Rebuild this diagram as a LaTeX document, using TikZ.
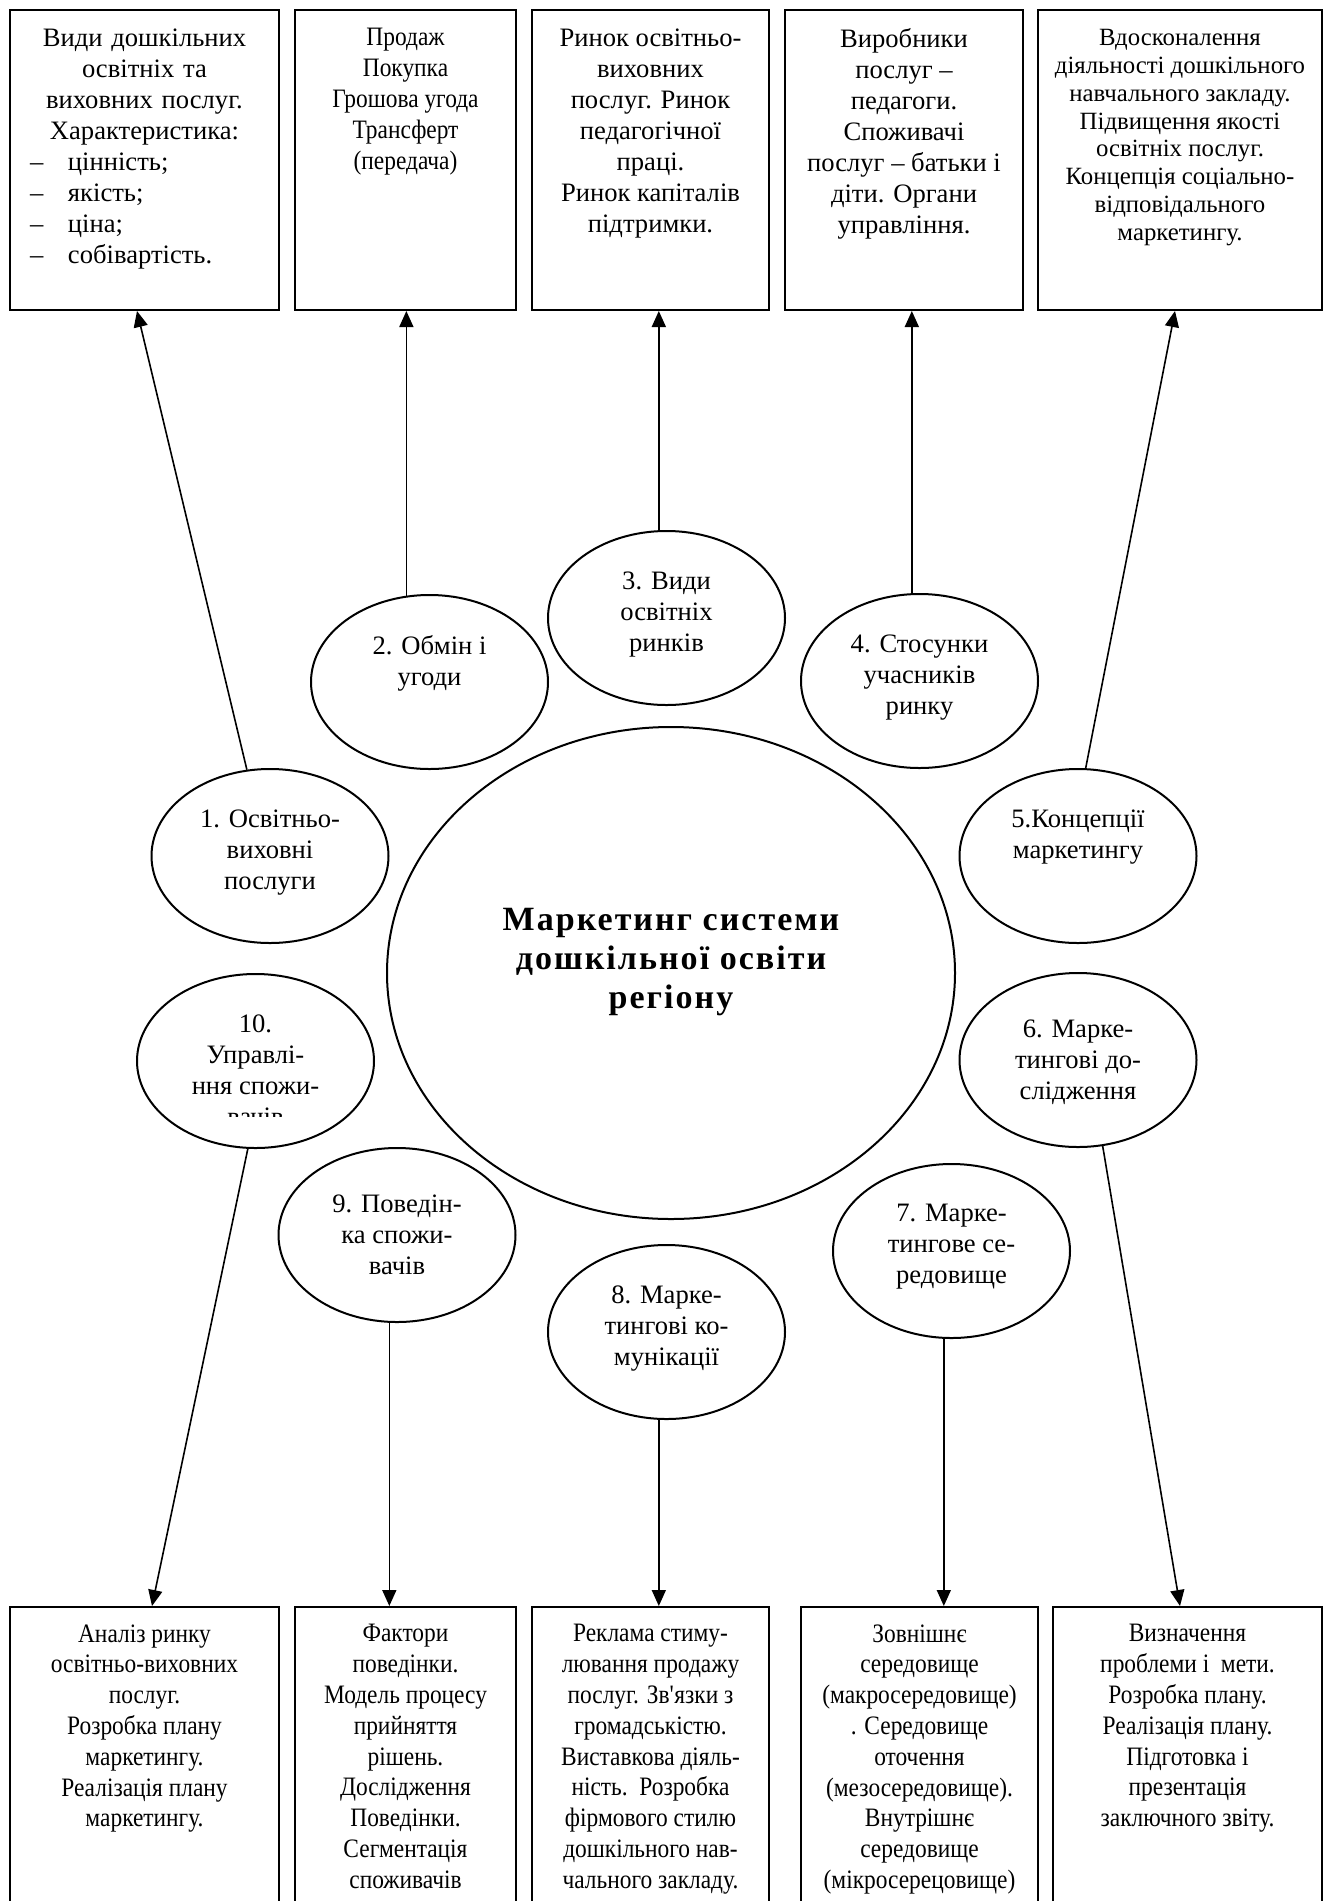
\documentclass[tikz,border=0pt]{standalone}
\usepackage{fontspec}
\setmainfont{Liberation Serif}
\newfontfamily\narrowserif[FakeStretch=0.88]{Liberation Serif}
\newfontfamily\widebold[LetterSpace=6]{Liberation Serif}
\usetikzlibrary{shapes.geometric,arrows.meta,calc}

\begin{document}
\begin{tikzpicture}[x=0.5pt, y=-0.5pt,
  infobox/.style={draw, line width=1pt, rectangle, inner sep=0pt},
  topic/.style={draw, line width=1pt, ellipse, inner sep=0pt, minimum width=118.5pt, minimum height=87pt},
  topictext/.style={anchor=north, inner sep=0pt, align=center, font=\fontsize{13.3}{15.5}\selectfont},
  boxtext/.style={anchor=north, inner sep=0pt, align=center, font=\fontsize{13.3}{15.5}\selectfont},
  narrowtext/.style={boxtext, font=\narrowserif\fontsize{13.3}{15.4}\selectfont},
  link/.style={line width=0.8pt, -{Triangle[length=8pt,width=7pt]}}]
\useasboundingbox (0,0) rectangle (1329,1901);
\clip (0,0) rectangle (1329,1901);

% Upper boxes
\foreach \n/\x/\w in {1/144.5/134.5, 2/405.5/110.5, 3/650.5/118.5, 4/904/119, 5/1180/142}
  \node[infobox, minimum width=\w pt, minimum height=150pt] (b\n) at (\x,160) {};

% Lower boxes (run off the page)
\foreach \n/\x/\w in {1/144.5/134.5, 2/405.5/110.5, 3/650.5/118.5, 4/919.5/118.5, 5/1187.5/134.5}
  \node[infobox, minimum width=\w pt, minimum height=152pt] (c\n) at (\x,1759) {};

% Central ellipse
\node[draw, ellipse, line width=1pt, inner sep=0pt, minimum width=284pt, minimum height=246pt] (hub) at (671,973) {};
\node[inner sep=0pt, align=center, font=\widebold\bfseries\fontsize{17}{19.5}\selectfont] (hubtext) at ($(hub.center)+(0,-11)$)
  {Маркетинг системи\\дошкільної освіти\\регіону};

% Topic ellipses
\foreach \n/\x/\y in {1/270/856, 2/429.5/682, 3/666.5/618, 4/919.5/681, 5/1078/856,
                      6/1078/1060, 7/951.5/1251, 8/666.5/1332, 9/397/1235, 10/255.5/1061}
  \node[topic] (e\n) at (\x,\y) {};

\node[topictext] (e1text) at ($(e1.north)+(0,41)$) {1. Освітньо-\\виховні\\послуги};
\node[topictext] (e2text) at ($(e2.north)+(0,41)$) {2. Обмін і\\угоди};
\node[topictext] (e3text) at ($(e3.north)+(0,41)$) {3. Види\\освітніх\\ринків};
\node[topictext] (e4text) at ($(e4.north)+(0,41)$) {4. Стосунки\\учасників\\ринку};
\node[topictext] (e5text) at ($(e5.north)+(0,41)$) {5.Концепції\\маркетингу};
\node[topictext] (e6text) at ($(e6.north)+(0,47)$) {6. Марке-\\тингові до-\\слідження};
\node[topictext] (e7text) at ($(e7.north)+(0,41)$) {7. Марке-\\тингове се-\\редовище};
\node[topictext] (e8text) at ($(e8.north)+(0,41)$) {8. Марке-\\тингові ко-\\мунікації};
\node[topictext] (e9text) at ($(e9.north)+(0,47)$) {9. Поведін-\\ка спожи-\\вачів};
\begin{scope}
  \clip (e10.north west) rectangle ($(e10.east)+(0,55)$);
  \node[topictext] (e10text) at ($(e10.north)+(0,41)$) {10.\\Управлі-\\ння спожи-\\вачів};
\end{scope}

% Upper box texts
\node[boxtext, text width=120pt, align=left] (b1text) at ($(b1.north)+(0,19)$)
  {{\centering Види дошкільних\\освітніх та\\виховних послуг.\\Характеристика:\par}
   \hspace*{2.75pt}\makebox[19pt][l]{–}цінність;\\
   \hspace*{2.75pt}\makebox[19pt][l]{–}якість;\\
   \hspace*{2.75pt}\makebox[19pt][l]{–}ціна;\\
   \hspace*{2.75pt}\makebox[19pt][l]{–}собівартість.};
\node[narrowtext] (b2text) at ($(b2.north)+(0,19)$) {Продаж\\Покупка\\Грошова угода\\Трансферт\\(передача)};
\node[boxtext] (b3text) at ($(b3.north)+(0,19)$)
  {Ринок освітньо-\\виховних\\послуг. Ринок\\педагогічної\\праці.\\Ринок капіталів\\підтримки.};
\node[boxtext] (b4text) at ($(b4.north)+(0,19)$)
  {Виробники\\послуг –\\педагоги.\\Споживачі\\послуг – батьки і\\діти. Органи\\управління.};
\node[boxtext, font=\fontsize{12.4}{13.9}\selectfont] (b5text) at ($(b5.north)+(0,20)$)
  {Вдосконалення\\діяльності дошкільного\\навчального закладу.\\Підвищення якості\\освітніх послуг.\\Концепція соціально-\\відповідального\\маркетингу.};

% Lower box texts
\node[narrowtext] (c1text) at ($(c1.north)+(0,18)$)
  {Аналіз ринку\\освітньо-виховних\\послуг.\\Розробка плану\\маркетингу.\\Реалізація плану\\маркетингу.};
\node[narrowtext] (c2text) at ($(c2.north)+(0,18)$)
  {Фактори\\поведінки.\\Модель процесу\\прийняття\\рішень.\\Дослідження\\Поведінки.\\Сегментація\\споживачів};
\node[narrowtext] (c3text) at ($(c3.north)+(0,18)$)
  {Реклама стиму-\\лювання продажу\\послуг. Зв\textquotesingle язки з\\громадськістю.\\Виставкова діяль-\\ність.\ \ Розробка\\фірмового стилю\\дошкільного нав-\\чального закладу.};
\node[narrowtext] (c4text) at ($(c4.north)+(0,18)$)
  {Зовнішнє\\середовище\\(макросередовище)\\. Середовище\\оточення\\(мезосередовище).\\Внутрішнє\\середовище\\(мікросерецовище)};
\node[narrowtext] (c5text) at ($(c5.north)+(0,18)$)
  {Визначення\\проблеми і\ \ мети.\\Розробка плану.\\Реалізація плану.\\Підготовка і\\презентація\\заключного звіту.};

% Arrows up
\draw[link] (e1.105) -- ($(b1.south)+(-7.5,0)$);
\draw[link] (e2.105) -- (e2.105 |- b2.south);
\draw[link] (e3.95) -- (e3.95 |- b3.south);
\draw[link] (e4.95) -- (e4.95 |- b4.south);
\draw[link] (e5.85) -- ($(b5.south)+(-5,0)$);

% Arrows down
\draw[link] (e6.286) -- ($(c5.north)+(-7.5,0)$);
\draw[link] (e7.265) -- (e7.265 |- c4.north);
\draw[link] (e8.265) -- (e8.265 |- c3.north);
\draw[link] (e9.265) -- (e9.265 |- c2.north);
\draw[link] (e10.265) -- ($(c1.north)+(7.5,0)$);

\end{tikzpicture}
\end{document}
